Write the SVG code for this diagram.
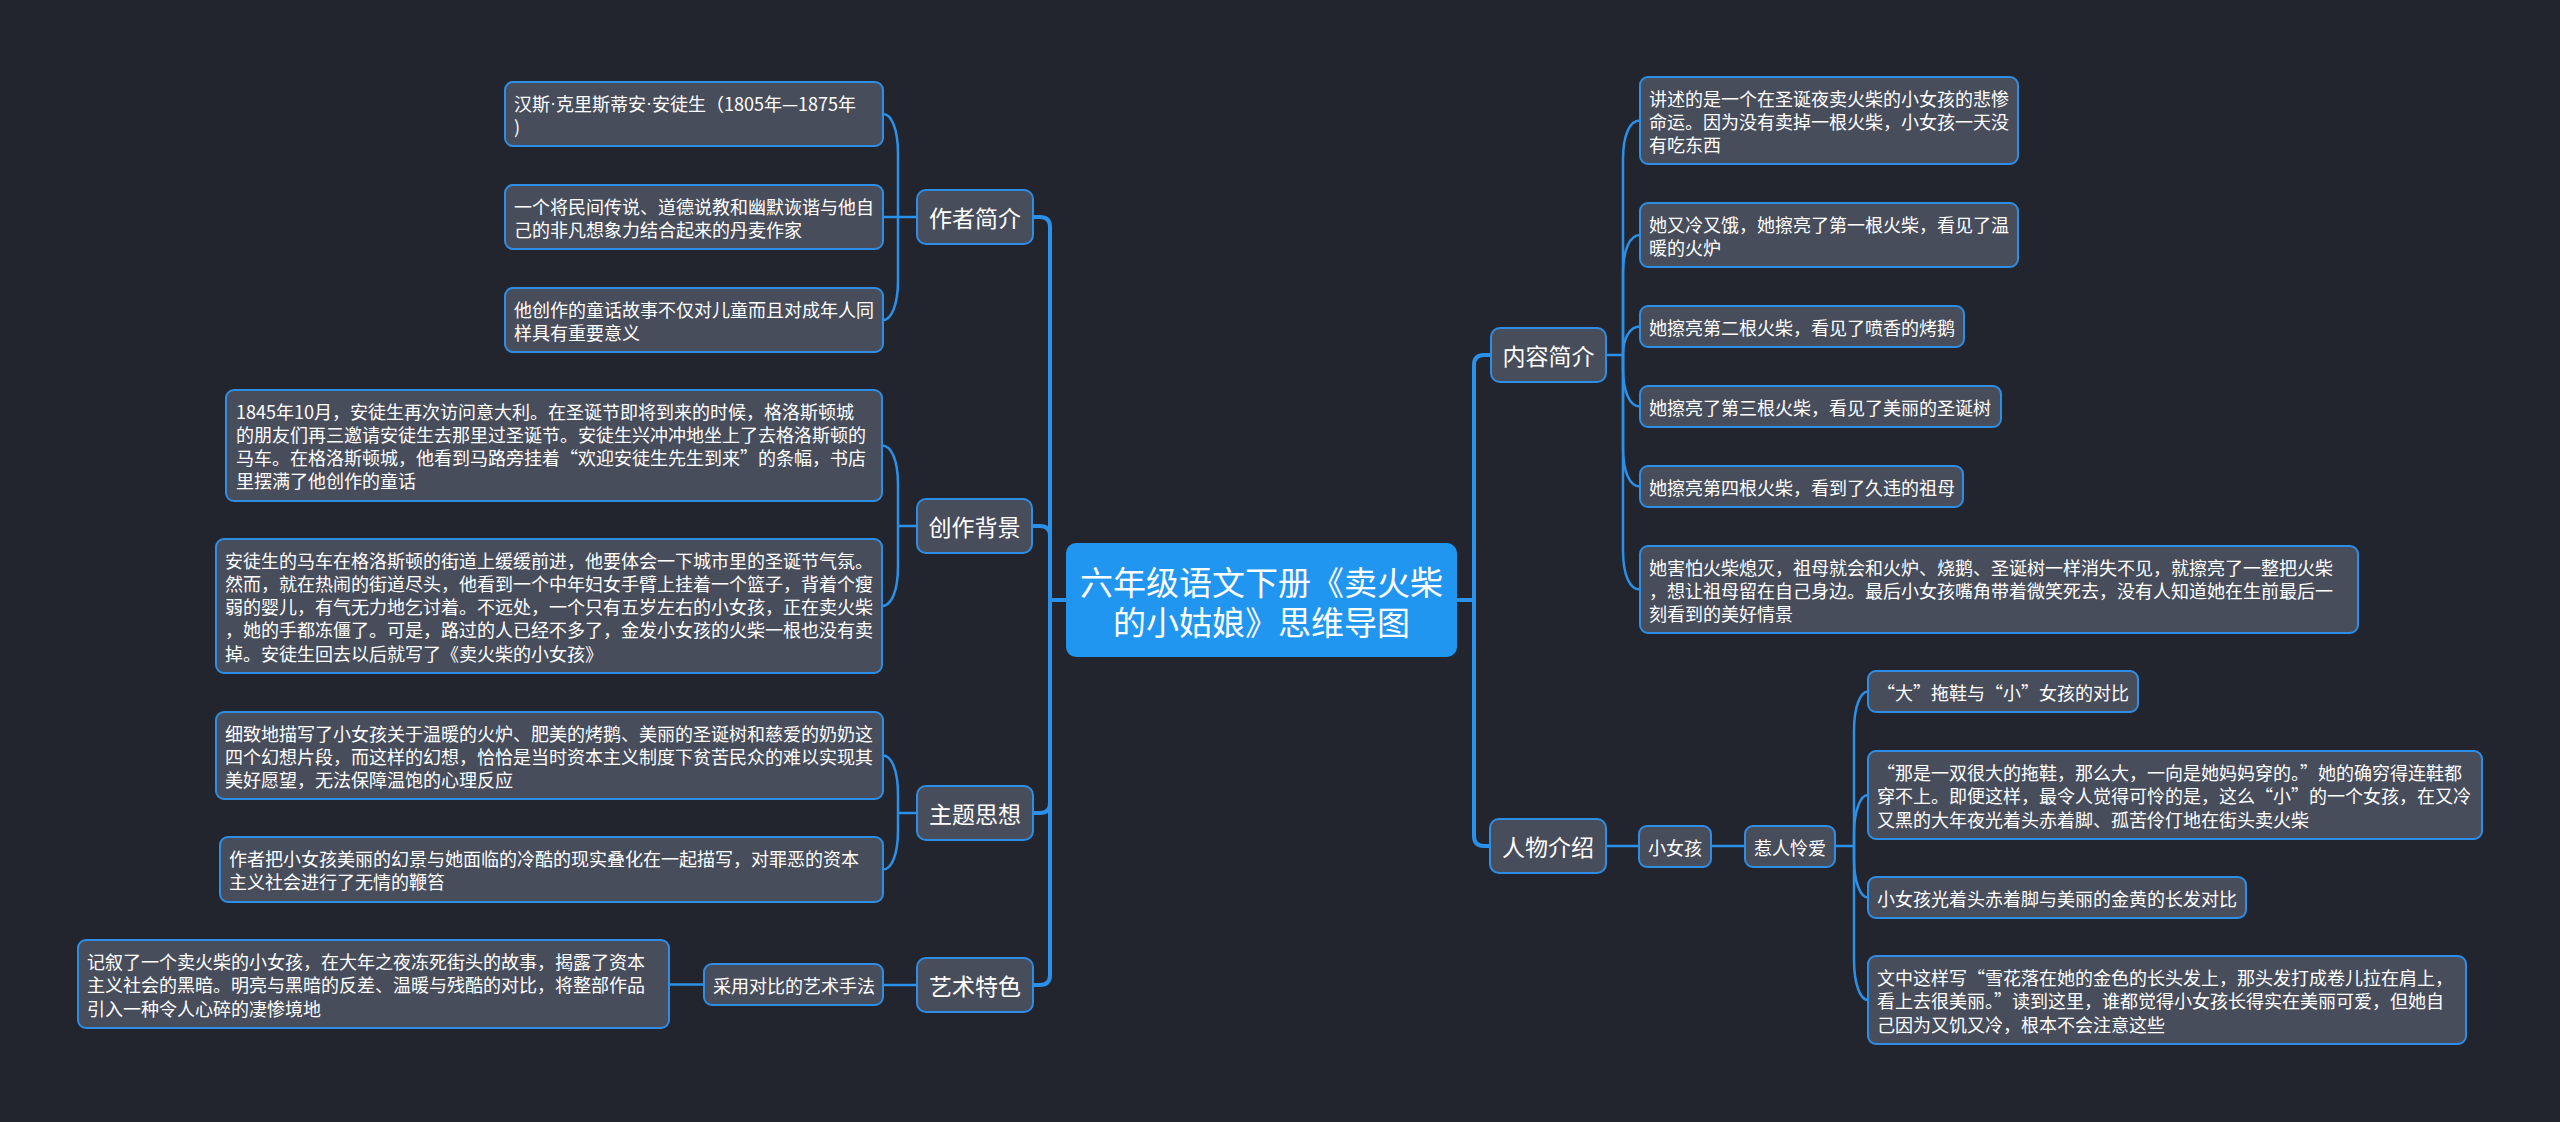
<svg xmlns="http://www.w3.org/2000/svg" width="2560" height="1122" viewBox="0 0 2560 1122">
<style>
.bg{fill:#22252e}
.n{fill:#484d5c;stroke:#2e8ee6;stroke-width:2}
.root{fill:#2196f0}
.t{font-family:"Noto Sans CJK SC","Microsoft YaHei",sans-serif;font-size:18px;fill:#ffffff;dominant-baseline:central}
.mt{font-family:"Noto Sans CJK SC","Microsoft YaHei",sans-serif;font-size:23px;fill:#ffffff;dominant-baseline:central;text-anchor:middle}
.rt{font-family:"Noto Sans CJK SC","Microsoft YaHei",sans-serif;font-size:33px;fill:#ffffff;dominant-baseline:central;text-anchor:middle}
.lat{font-family:"Liberation Sans",sans-serif}
.cm{fill:none;stroke:#2a90e8;stroke-width:4}
.cs{fill:none;stroke:#2a90e8;stroke-width:2.5}
</style>
<rect class="bg" x="0" y="0" width="2560" height="1122"/>
<g id="connectors">
<path class="cm" d="M1066 600 H1050"/>
<path class="cm" d="M1050 600 V227 Q1050 217 1040 217 H1033"/>
<path class="cm" d="M1050 600 V536 Q1050 526 1040 526 H1032"/>
<path class="cm" d="M1050 600 V803 Q1050 813 1040 813 H1033"/>
<path class="cm" d="M1050 600 V975 Q1050 985 1040 985 H1033"/>
<path class="cm" d="M1457 600 H1474"/>
<path class="cm" d="M1474 600 V365 Q1474 355 1484 355 H1491"/>
<path class="cm" d="M1474 600 V836 Q1474 846 1484 846 H1490"/>
<path class="cs" d="M917 217 H898"/>
<path class="cs" d="M898 217 V154 C898 128 891 114 883 114"/>
<path class="cs" d="M898 217 H883"/>
<path class="cs" d="M898 217 V280 C898 306 891 320 883 320"/>
<path class="cs" d="M917 526 H898"/>
<path class="cs" d="M898 526 V485 C898 459 891 445.5 882 445.5"/>
<path class="cs" d="M898 526 V566 C898 592 891 606 882 606"/>
<path class="cs" d="M917 813 H898"/>
<path class="cs" d="M898 813 V795 C898 769 891 755.5 883 755.5"/>
<path class="cs" d="M898 813 V830 C898 856 891 869.5 883 869.5"/>
<path class="cs" d="M917 985 H883"/>
<path class="cs" d="M704 984.5 H669"/>
<path class="cs" d="M1606 355 H1623"/>
<path class="cs" d="M1623 355 V160 C1623 134 1630 120.5 1640 120.5"/>
<path class="cs" d="M1623 355 V275 C1623 249 1630 235 1640 235"/>
<path class="cs" d="M1623 355 C1623 338 1630 326.5 1640 326.5"/>
<path class="cs" d="M1623 355 V367 C1623 393 1630 406.5 1640 406.5"/>
<path class="cs" d="M1623 355 V447 C1623 473 1630 486.5 1640 486.5"/>
<path class="cs" d="M1623 355 V550 C1623 576 1630 589.5 1640 589.5"/>
<path class="cs" d="M1606 846 H1639"/>
<path class="cs" d="M1711 846 H1745"/>
<path class="cs" d="M1835 846 H1854"/>
<path class="cs" d="M1854 846 V731 C1854 705 1861 691.5 1868 691.5"/>
<path class="cs" d="M1854 846 V835 C1854 809 1861 795 1868 795"/>
<path class="cs" d="M1854 846 V858 C1854 884 1861 897.5 1868 897.5"/>
<path class="cs" d="M1854 846 V960 C1854 986 1861 1000 1868 1000"/>
</g>
<g id="root">
<rect class="root" x="1066" y="543" width="391" height="114" rx="10"/>
<text class="rt"><tspan x="1261.5" y="581">六年级语文下册《卖火柴</tspan><tspan x="1261.5" y="621">的小姑娘》思维导图</tspan></text>
</g>
<g id="zuozhe">
<rect class="n" x="917" y="190" width="116" height="54" rx="9"/>
<text class="mt" x="975" y="217">作者简介</text>
</g>
<g id="zuozhe-1">
<rect class="n" x="505" y="82" width="378" height="64" rx="8"/>
<text class="t"><tspan x="514" y="102.5">汉斯<tspan class="lat">·</tspan>克里斯蒂安<tspan class="lat">·</tspan>安徒生（1805年—1875年</tspan><tspan x="514" y="125.8">)</tspan></text>
</g>
<g id="zuozhe-2">
<rect class="n" x="505" y="185" width="378" height="64" rx="8"/>
<text class="t"><tspan x="514" y="205.5">一个将民间传说、道德说教和幽默诙谐与他自</tspan><tspan x="514" y="228.8">己的非凡想象力结合起来的丹麦作家</tspan></text>
</g>
<g id="zuozhe-3">
<rect class="n" x="505" y="288" width="378" height="64" rx="8"/>
<text class="t"><tspan x="514" y="308.5">他创作的童话故事不仅对儿童而且对成年人同</tspan><tspan x="514" y="331.8">样具有重要意义</tspan></text>
</g>
<g id="beijing">
<rect class="n" x="917" y="499" width="115" height="54" rx="9"/>
<text class="mt" x="974.5" y="526">创作背景</text>
</g>
<g id="beijing-1">
<rect class="n" x="226" y="390" width="656" height="111" rx="8"/>
<text class="t"><tspan x="236" y="410.5">1845年10月，安徒生再次访问意大利。在圣诞节即将到来的时候，格洛斯顿城</tspan><tspan x="236" y="433.8">的朋友们再三邀请安徒生去那里过圣诞节。安徒生兴冲冲地坐上了去格洛斯顿的</tspan><tspan x="236" y="457.1">马车。在格洛斯顿城，他看到马路旁挂着“欢迎安徒生先生到来”的条幅，书店</tspan><tspan x="236" y="480.4">里摆满了他创作的童话</tspan></text>
</g>
<g id="beijing-2">
<rect class="n" x="216" y="539" width="666" height="134" rx="8"/>
<text class="t"><tspan x="225" y="559.5">安徒生的马车在格洛斯顿的街道上缓缓前进，他要体会一下城市里的圣诞节气氛。</tspan><tspan x="225" y="582.8">然而，就在热闹的街道尽头，他看到一个中年妇女手臂上挂着一个篮子，背着个瘦</tspan><tspan x="225" y="606.1">弱的婴儿，有气无力地乞讨着。不远处，一个只有五岁左右的小女孩，正在卖火柴</tspan><tspan x="225" y="629.4">，她的手都冻僵了。可是，路过的人已经不多了，金发小女孩的火柴一根也没有卖</tspan><tspan x="225" y="652.7">掉。安徒生回去以后就写了《卖火柴的小女孩》</tspan></text>
</g>
<g id="zhuti">
<rect class="n" x="917" y="786" width="116" height="54" rx="9"/>
<text class="mt" x="975" y="813">主题思想</text>
</g>
<g id="zhuti-1">
<rect class="n" x="216" y="712" width="667" height="87" rx="8"/>
<text class="t"><tspan x="225" y="732.5">细致地描写了小女孩关于温暖的火炉、肥美的烤鹅、美丽的圣诞树和慈爱的奶奶这</tspan><tspan x="225" y="755.8">四个幻想片段，而这样的幻想，恰恰是当时资本主义制度下贫苦民众的难以实现其</tspan><tspan x="225" y="779.1">美好愿望，无法保障温饱的心理反应</tspan></text>
</g>
<g id="zhuti-2">
<rect class="n" x="220" y="837" width="663" height="65" rx="8"/>
<text class="t"><tspan x="229" y="858">作者把小女孩美丽的幻景与她面临的冷酷的现实叠化在一起描写，对罪恶的资本</tspan><tspan x="229" y="881.3">主义社会进行了无情的鞭笞</tspan></text>
</g>
<g id="yishu">
<rect class="n" x="917" y="958" width="116" height="54" rx="9"/>
<text class="mt" x="975" y="985">艺术特色</text>
</g>
<g id="yishu-1">
<rect class="n" x="704" y="964" width="179" height="41" rx="8"/>
<text class="t" x="713" y="984.5">采用对比的艺术手法</text>
</g>
<g id="yishu-2">
<rect class="n" x="78" y="940" width="591" height="88" rx="8"/>
<text class="t"><tspan x="87" y="961">记叙了一个卖火柴的小女孩，在大年之夜冻死街头的故事，揭露了资本</tspan><tspan x="87" y="984.3">主义社会的黑暗。明亮与黑暗的反差、温暖与残酷的对比，将整部作品</tspan><tspan x="87" y="1007.6">引入一种令人心碎的凄惨境地</tspan></text>
</g>
<g id="neirong">
<rect class="n" x="1491" y="328" width="115" height="54" rx="9"/>
<text class="mt" x="1548.5" y="355">内容简介</text>
</g>
<g id="neirong-1">
<rect class="n" x="1640" y="77" width="378" height="87" rx="8"/>
<text class="t"><tspan x="1649" y="97.5">讲述的是一个在圣诞夜卖火柴的小女孩的悲惨</tspan><tspan x="1649" y="120.8">命运。因为没有卖掉一根火柴，小女孩一天没</tspan><tspan x="1649" y="144.1">有吃东西</tspan></text>
</g>
<g id="neirong-2">
<rect class="n" x="1640" y="203" width="378" height="64" rx="8"/>
<text class="t"><tspan x="1649" y="223.5">她又冷又饿，她擦亮了第一根火柴，看见了温</tspan><tspan x="1649" y="246.8">暖的火炉</tspan></text>
</g>
<g id="neirong-3">
<rect class="n" x="1640" y="306" width="324" height="41" rx="8"/>
<text class="t" x="1649" y="326.5">她擦亮第二根火柴，看见了喷香的烤鹅</text>
</g>
<g id="neirong-4">
<rect class="n" x="1640" y="386" width="361" height="41" rx="8"/>
<text class="t" x="1649" y="406.5">她擦亮了第三根火柴，看见了美丽的圣诞树</text>
</g>
<g id="neirong-5">
<rect class="n" x="1640" y="466" width="323" height="41" rx="8"/>
<text class="t" x="1649" y="486.5">她擦亮第四根火柴，看到了久违的祖母</text>
</g>
<g id="neirong-6">
<rect class="n" x="1640" y="546" width="718" height="87" rx="8"/>
<text class="t"><tspan x="1649" y="566.5">她害怕火柴熄灭，祖母就会和火炉、烧鹅、圣诞树一样消失不见，就擦亮了一整把火柴</tspan><tspan x="1649" y="589.8">，想让祖母留在自己身边。最后小女孩嘴角带着微笑死去，没有人知道她在生前最后一</tspan><tspan x="1649" y="613.1">刻看到的美好情景</tspan></text>
</g>
<g id="renwu">
<rect class="n" x="1490" y="819" width="116" height="54" rx="9"/>
<text class="mt" x="1548" y="846">人物介绍</text>
</g>
<g id="xiaonvhai">
<rect class="n" x="1639" y="826" width="72" height="41" rx="8"/>
<text class="t" x="1648" y="846.5">小女孩</text>
</g>
<g id="rerenlianai">
<rect class="n" x="1745" y="826" width="90" height="41" rx="8"/>
<text class="t" x="1754" y="846.5">惹人怜爱</text>
</g>
<g id="renwu-1">
<rect class="n" x="1868" y="671" width="270" height="41" rx="8"/>
<text class="t" x="1877" y="691.5">“大”拖鞋与“小”女孩的对比</text>
</g>
<g id="renwu-2">
<rect class="n" x="1868" y="751" width="614" height="88" rx="8"/>
<text class="t"><tspan x="1877" y="772">“那是一双很大的拖鞋，那么大，一向是她妈妈穿的。”她的确穷得连鞋都</tspan><tspan x="1877" y="795.3">穿不上。即便这样，最令人觉得可怜的是，这么“小”的一个女孩，在又冷</tspan><tspan x="1877" y="818.6">又黑的大年夜光着头赤着脚、孤苦伶仃地在街头卖火柴</tspan></text>
</g>
<g id="renwu-3">
<rect class="n" x="1868" y="877" width="378" height="41" rx="8"/>
<text class="t" x="1877" y="897.5">小女孩光着头赤着脚与美丽的金黄的长发对比</text>
</g>
<g id="renwu-4">
<rect class="n" x="1868" y="956" width="598" height="88" rx="8"/>
<text class="t"><tspan x="1877" y="977">文中这样写“雪花落在她的金色的长头发上，那头发打成卷儿拉在肩上，</tspan><tspan x="1877" y="1000.3">看上去很美丽。”读到这里，谁都觉得小女孩长得实在美丽可爱，但她自</tspan><tspan x="1877" y="1023.6">己因为又饥又冷，根本不会注意这些</tspan></text>
</g>
</svg>
